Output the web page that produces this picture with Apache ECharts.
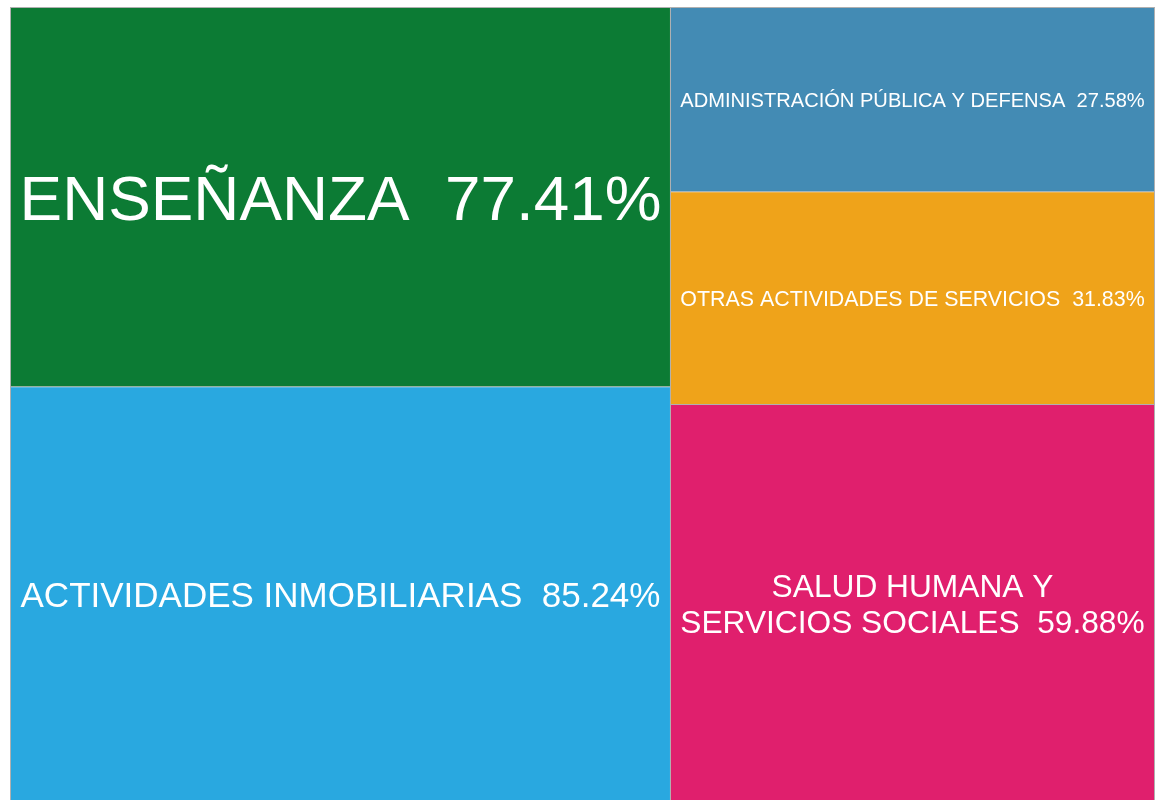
<!DOCTYPE html>
<html>
<head>
<meta charset="utf-8">
<script src="https://cdn.jsdelivr.net/npm/echarts@6/dist/echarts.min.js"></script>
<style>
html,body{margin:0;padding:0;background:#fff;}
#chart{width:1156px;height:800px;}
</style>
</head>
<body>
<div id="chart"></div>
<script>
// ---- data ----
const groupLeft = ['ENSEÑANZA', 'ACTIVIDADES INMOBILIARIAS'];
const valuesLeft = [77.41, 85.24];
const groupRight = ['ADMINISTRACIÓN PÚBLICA Y DEFENSA', 'OTRAS ACTIVIDADES DE SERVICIOS', 'SALUD HUMANA Y SERVICIOS SOCIALES'];
const valuesRight = [27.58, 31.83, 59.88];
const labelTexts = {
  'SALUD HUMANA Y SERVICIOS SOCIALES': 'SALUD HUMANA Y\nSERVICIOS SOCIALES'
};

// ---- styles ----
const colorMap = {
  'ENSEÑANZA': '#0C7B34',
  'ACTIVIDADES INMOBILIARIAS': '#29A8E0',
  'ADMINISTRACIÓN PÚBLICA Y DEFENSA': '#438BB4',
  'OTRAS ACTIVIDADES DE SERVICIOS': '#EFA31A',
  'SALUD HUMANA Y SERVICIOS SOCIALES': '#E01F6D'
};
// [fontSize, lineHeight, downward shift]
const fontMap = {
  'ENSEÑANZA': [63.8, 72, 5],
  'ACTIVIDADES INMOBILIARIAS': [35, 40, 2],
  'ADMINISTRACIÓN PÚBLICA Y DEFENSA': [20.1, 23, 2],
  'OTRAS ACTIVIDADES DE SERVICIOS': [21.4, 24, 2],
  'SALUD HUMANA Y SERVICIOS SOCIALES': [31.7, 36, 2]
};

function leaf(name, value) {
  const f = fontMap[name];
  return {
    name: name,
    value: value,
    itemStyle: { color: colorMap[name] },
    label: { fontSize: f[0], lineHeight: f[1], offset: [0, f[2]] }
  };
}
function sum(a) { return a.reduce((s, v) => s + v, 0); }

const treeData = [
  { name: 'left', value: sum(valuesLeft), children: groupLeft.map((n, i) => leaf(n, valuesLeft[i])) },
  { name: 'right', value: sum(valuesRight), children: groupRight.map((n, i) => leaf(n, valuesRight[i])) }
];

const chart = echarts.init(document.getElementById('chart'), null, { renderer: 'canvas' });
chart.setOption({
  backgroundColor: '#ffffff',
  animation: false,
  series: [{
    type: 'treemap',
    left: 10,
    top: 7,
    width: 1145,
    height: 798,
    sort: false,
    squareRatio: 0.001,
    roam: false,
    nodeClick: false,
    breadcrumb: { show: false },
    visibleMin: 0,
    label: {
      show: true,
      position: 'inside',
      align: 'center',
      verticalAlign: 'middle',
      color: '#ffffff',
      fontFamily: '"Liberation Sans", Arial, Helvetica, sans-serif',
      overflow: 'none',
      padding: 0,
      formatter: function (p) {
        const t = labelTexts[p.name] || p.name;
        return t + '  ' + p.value.toFixed(2) + '%';
      }
    },
    upperLabel: { show: false },
    levels: [
      { itemStyle: { borderWidth: 1, gapWidth: 1, borderColor: '#b0b0b0' } },
      { itemStyle: { borderWidth: 0, gapWidth: 1, borderColor: '#b0b0b0', color: '#b0b0b0' } },
      { itemStyle: { borderWidth: 0, gapWidth: 0 } }
    ],
    data: treeData
  }]
});
</script>
</body>
</html>
